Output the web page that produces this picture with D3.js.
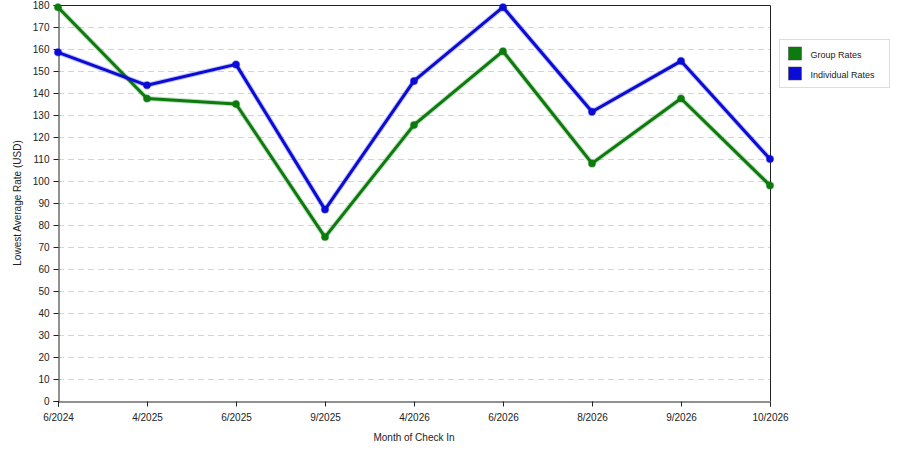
<!DOCTYPE html>
<html>
<head>
<meta charset="utf-8">
<script src="https://cdn.jsdelivr.net/npm/d3@7"></script>
<style>
  body { margin: 0; background: #fff; }
  svg text { font-family: "Liberation Sans", Arial, sans-serif; font-size: 10px; fill: #222; }
</style>
</head>
<body>
<div id="chart"></div>
<script>
const months = ["6/2024", "4/2025", "6/2025", "9/2025", "4/2026", "6/2026", "8/2026", "9/2026", "10/2026"];
const groupRates = [179, 137.5, 135, 74.5, 125.5, 159, 108, 137.5, 98];
const individualRates = [158.5, 143.5, 153, 87, 145.5, 179, 131.5, 154.5, 110];
const yTicks = d3.range(0, 181, 10);
const seriesNames = ["Group Rates", "Individual Rates"];
const seriesColors = ["#0c7a0c", "#0b0bd6"];

const width = 900;
const height = 450;
const margin = { top: 5, right: 130, bottom: 49, left: 58 };

const svg = d3.select("#chart").append("svg")
    .attr("width", width)
    .attr("height", height);

const xScale = d3.scalePoint()
    .domain(months)
    .range([margin.left, width - margin.right]);

const yScale = d3.scaleLinear()
    .domain([0, 180])
    .range([height - margin.bottom, margin.top]);

// dashed grid
svg.append("g")
    .selectAll("line")
    .data(yTicks.slice(1))
    .join("line")
    .attr("x1", margin.left)
    .attr("x2", width - margin.right)
    .attr("y1", d => yScale(d) + 0.5)
    .attr("y2", d => yScale(d) + 0.5)
    .attr("stroke", "#d4d4d4")
    .attr("stroke-dasharray", "6,4");

// frame top and right
svg.append("path")
    .attr("d", `M${margin.left},${margin.top + 0.5}H${width - margin.right + 0.5}V${height - margin.bottom}`)
    .attr("fill", "none")
    .attr("stroke", "#222");

const xAxis = svg.append("g")
    .attr("transform", `translate(0,${height - margin.bottom + 0.5})`)
    .call(d3.axisBottom(xScale).tickSize(5).tickPadding(7));

const yAxis = svg.append("g")
    .attr("transform", `translate(${margin.left + 0.5},0)`)
    .call(d3.axisLeft(yScale).tickValues(yTicks).tickSize(5).tickPadding(4));

[xAxis, yAxis].forEach(g => {
    g.selectAll("path, line").attr("stroke", "#222");
    g.selectAll("text").attr("font-size", null).attr("font-family", null);
});

svg.append("text")
    .attr("x", (margin.left + width - margin.right) / 2)
    .attr("y", 441)
    .attr("text-anchor", "middle")
    .text("Month of Check In");

svg.append("text")
    .attr("transform", `translate(21,${(margin.top + height - margin.bottom) / 2}) rotate(-90)`)
    .attr("text-anchor", "middle")
    .text("Lowest Average Rate (USD)");

const line = d3.line()
    .x((d, i) => xScale(months[i]))
    .y(d => yScale(d));

[groupRates, individualRates].forEach((values, s) => {
    svg.append("path")
        .datum(values)
        .attr("fill", "none")
        .attr("stroke", seriesColors[s])
        .attr("stroke-opacity", 0.25)
        .attr("stroke-width", 5)
        .attr("stroke-linejoin", "round")
        .attr("d", line);

    svg.append("path")
        .datum(values)
        .attr("fill", "none")
        .attr("stroke", seriesColors[s])
        .attr("stroke-width", 3)
        .attr("stroke-linejoin", "round")
        .attr("d", line);

    svg.append("g")
        .selectAll("circle")
        .data(values)
        .join("circle")
        .attr("cx", (d, i) => xScale(months[i]))
        .attr("cy", d => yScale(d))
        .attr("r", 3.5)
        .attr("fill", seriesColors[s])
        .attr("stroke", seriesColors[s])
        .attr("stroke-opacity", 0.4)
        .attr("stroke-width", 1.5);
});

// legend
const legend = svg.append("g").attr("transform", "translate(779.5,39.5)");
legend.append("rect")
    .attr("width", 110)
    .attr("height", 48)
    .attr("fill", "#fff")
    .attr("stroke", "#ddd");

seriesNames.forEach((name, i) => {
    legend.append("rect")
        .attr("x", 9)
        .attr("y", 7.5 + i * 20)
        .attr("width", 13)
        .attr("height", 13)
        .attr("fill", seriesColors[i])
        .attr("stroke", "#444")
        .attr("stroke-width", 0.5);
    legend.append("text")
        .attr("x", 31)
        .attr("y", 18 + i * 20)
        .style("font-size", "9px")
        .text(name);
});
</script>
</body>
</html>
